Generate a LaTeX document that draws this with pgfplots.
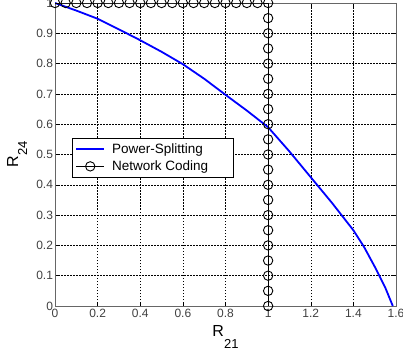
\documentclass[border=0pt]{standalone}
\usepackage{pgfplots}
\pgfplotsset{compat=1.18}
\usepackage{fontspec}
\setmainfont{Liberation Sans}
\begin{document}
\begin{tikzpicture}
\begin{axis}[
  width=341pt, height=303pt, scale only axis,
  xmin=0, xmax=1.6, ymin=0, ymax=1,
  xtick={0,0.2,0.4,0.6,0.8,1,1.2,1.4,1.6},
  ytick={0,0.1,0.2,0.3,0.4,0.5,0.6,0.7,0.8,0.9,1},
  /pgf/number format/assume math mode=true,
  tick label style={font=\fontsize{12}{14}\selectfont, text=black!75},
  yticklabel style={xshift=1.5pt},
  tick align=inside, major tick length=4pt,
  tick style={black, line width=0.5pt},
  axis line style={black!60, line width=0.9pt},
  grid=major,
  major grid style={black, line width=0.5pt, dash pattern=on 1.5pt off 1.5pt},
  xlabel={\fontsize{16}{18}\selectfont R\raisebox{-12pt}{\fontsize{13}{15}\selectfont 21}},
  ylabel={\fontsize{16}{18}\selectfont R\raisebox{-9pt}{\fontsize{13}{15}\selectfont 24}},
  xlabel style={at={(axis description cs:0.5,-0.0627)}, anchor=north, inner sep=0pt},
  ylabel style={at={(axis description cs:-0.1408,0.5)}, anchor=north, rotate=0, inner sep=0pt},
  legend style={at={(0.05,0.554)}, anchor=north west, draw=black, line width=0.6pt,
    fill=white, font=\fontsize{13.5}{15}\selectfont, inner xsep=3pt, inner ysep=3pt,
    row sep=2pt},
  legend cell align=left,
  legend image code/.code={\draw[mark repeat=2,mark phase=2,#1] plot coordinates {(0pt,0pt) (14pt,0pt) (28pt,0pt)};},
]
\addplot[blue, line width=1.8pt, mark=none] coordinates {
(0,1) (0.1,0.975) (0.2,0.948) (0.3,0.913) (0.4,0.877) (0.5,0.839) (0.6,0.798)
(0.7,0.75) (0.8,0.697) (0.9,0.645) (1.0,0.59) (1.1,0.51) (1.2,0.425)
(1.3,0.34) (1.4,0.25) (1.45,0.195) (1.5,0.13) (1.55,0.06) (1.585,0)
};
\addlegendentry{\makebox[121pt][l]{\hspace{5pt}Power-Splitting}}
\addplot[black, line width=0.9pt, mark=o, mark size=4.7pt, mark options={line width=0.9pt}] coordinates {
(0,1) (0.05,1) (0.1,1) (0.15,1) (0.2,1) (0.25,1) (0.3,1) (0.35,1) (0.4,1) (0.45,1)
(0.5,1) (0.55,1) (0.6,1) (0.65,1) (0.7,1) (0.75,1) (0.8,1) (0.85,1) (0.9,1) (0.95,1)
(1,1) (1,0.95) (1,0.9) (1,0.85) (1,0.8) (1,0.75) (1,0.7) (1,0.65) (1,0.6) (1,0.55)
(1,0.5) (1,0.45) (1,0.4) (1,0.35) (1,0.3) (1,0.25) (1,0.2) (1,0.15) (1,0.1) (1,0.05) (1,0)
};
\addlegendentry{\makebox[121pt][l]{\hspace{5pt}Network Coding}}
\end{axis}
\pgfresetboundingbox
\path[use as bounding box] ([shift={(-55pt,-47pt)}]current axis.south west) rectangle ([shift={(7pt,3pt)}]current axis.north east);
\end{tikzpicture}
\end{document}
